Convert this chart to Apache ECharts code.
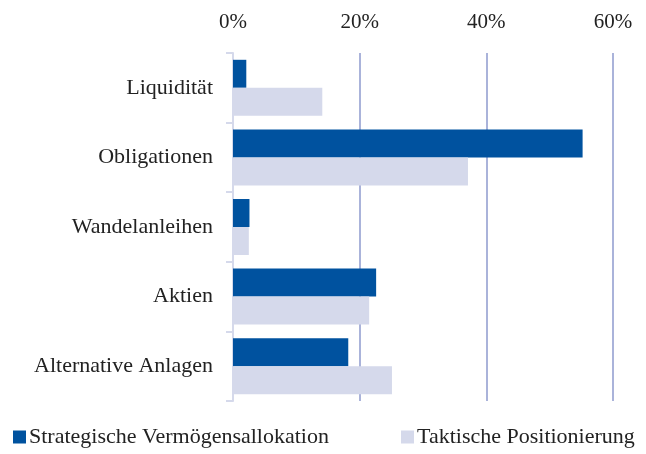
<!DOCTYPE html>
<html lang="de">
  <head>
    <meta charset="utf-8" />
    <title>Vermögensallokation</title>
    <script src="https://cdn.jsdelivr.net/npm/echarts@6/dist/echarts.min.js"></script>
    <style>
      html, body { margin: 0; padding: 0; background: #fff; }
      #chart { width: 646px; height: 454px; }
    </style>
  </head>
  <body>
    <div id="chart"></div>
    <script>
      // categories top to bottom
      var categories = ['Liquidität', 'Obligationen', 'Wandelanleihen', 'Aktien', 'Alternative Anlagen']
      var strategisch = [2.1, 55.2, 2.6, 22.6, 18.2]
      var taktisch = [14.1, 37.1, 2.5, 21.5, 25.1]
      var xTicks = [0, 20, 40, 60]

      var font = '"Liberation Serif", "DejaVu Serif", serif'
      var dark = '#00529f'
      var light = '#d5d9eb'

      var chart = echarts.init(document.getElementById('chart'))
      chart.setOption({
        animation: false,
        textStyle: { fontFamily: font },
        grid: { left: 233, right: 33, top: 53, bottom: 53 },
        legend: [
          {
            data: ['Strategische Vermögensallokation'],
            left: 8, bottom: 1,
            icon: 'rect', itemWidth: 13, itemHeight: 13, itemGap: 4,
            textStyle: { fontFamily: font, fontSize: 22, color: '#222', padding: [0, 0, 0, -2] }
          },
          {
            data: ['Taktische Positionierung'],
            left: 396, bottom: 1,
            icon: 'rect', itemWidth: 13, itemHeight: 13,
            textStyle: { fontFamily: font, fontSize: 22, color: '#222', padding: [0, 0, 0, -2] }
          }
        ],
        xAxis: {
          type: 'value',
          position: 'top',
          min: xTicks[0],
          max: xTicks[xTicks.length - 1],
          interval: 20,
          axisLine: { show: false },
          axisTick: { show: false },
          axisLabel: {
            formatter: '{value}%',
            fontFamily: font, fontSize: 21, color: '#222', margin: 20
          },
          splitLine: { lineStyle: { color: '#aab3da', width: 2 } }
        },
        yAxis: {
          type: 'category',
          data: categories,
          inverse: true,
          axisLine: { lineStyle: { color: light, width: 2 } },
          axisTick: { show: true, length: 7, lineStyle: { color: light, width: 2 } },
          axisLabel: { fontFamily: font, fontSize: 22, color: '#222', margin: 20 }
        },
        series: [
          {
            name: 'Strategische Vermögensallokation',
            type: 'bar',
            data: strategisch,
            barWidth: 28,
            barGap: '0%',
            itemStyle: { color: dark }
          },
          {
            name: 'Taktische Positionierung',
            type: 'bar',
            data: taktisch,
            barWidth: 28,
            barGap: '0%',
            itemStyle: { color: light }
          }
        ]
      })
    </script>
  </body>
</html>
